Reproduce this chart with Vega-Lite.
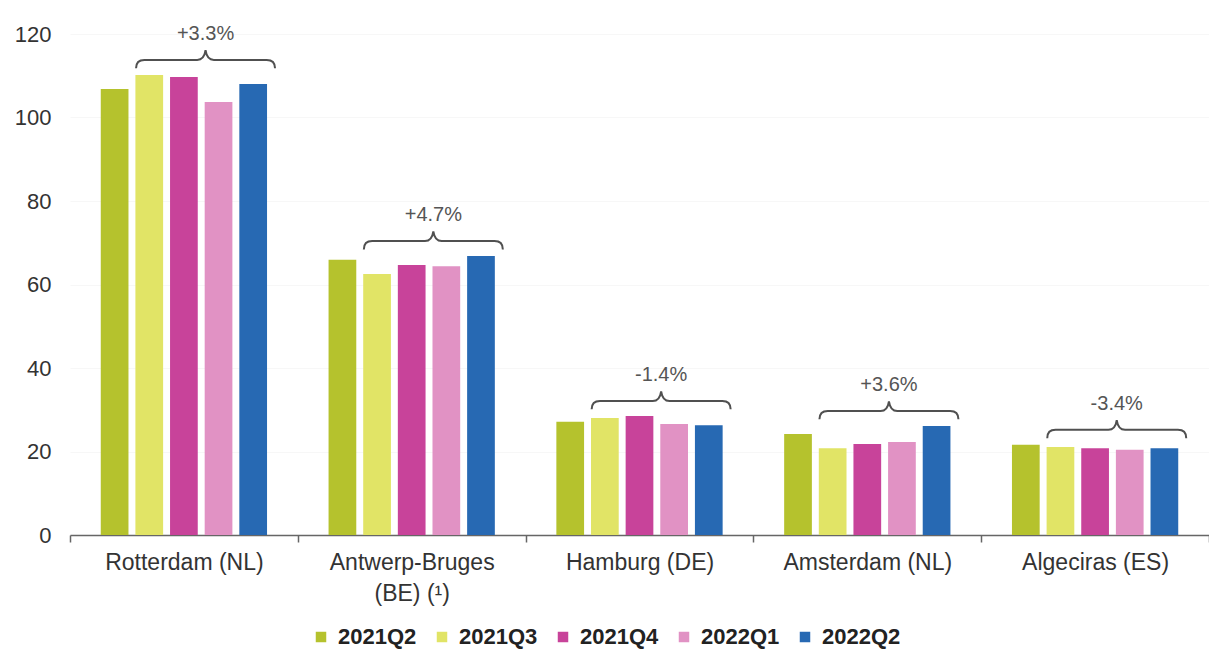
{
  "$schema": "https://vega.github.io/schema/vega-lite/v6.json",
  "width": 1139,
  "height": 501,
  "autosize": "none",
  "padding": {"left": 70, "top": 34, "right": 0, "bottom": 119},
  "background": "white",
  "config": {"view": {"stroke": null}, "font": "Liberation Sans"},
  "datasets": {
    "ports": [
      {"port": "Rotterdam (NL)", "quarter": "2021Q2", "value": 106.8},
      {"port": "Rotterdam (NL)", "quarter": "2021Q3", "value": 110.2},
      {"port": "Rotterdam (NL)", "quarter": "2021Q4", "value": 109.7},
      {"port": "Rotterdam (NL)", "quarter": "2022Q1", "value": 103.7},
      {"port": "Rotterdam (NL)", "quarter": "2022Q2", "value": 108.0},
      {"port": "Antwerp-Bruges (BE) (¹)", "quarter": "2021Q2", "value": 65.9},
      {"port": "Antwerp-Bruges (BE) (¹)", "quarter": "2021Q3", "value": 62.5},
      {"port": "Antwerp-Bruges (BE) (¹)", "quarter": "2021Q4", "value": 64.7},
      {"port": "Antwerp-Bruges (BE) (¹)", "quarter": "2022Q1", "value": 64.4},
      {"port": "Antwerp-Bruges (BE) (¹)", "quarter": "2022Q2", "value": 66.8},
      {"port": "Hamburg (DE)", "quarter": "2021Q2", "value": 27.1},
      {"port": "Hamburg (DE)", "quarter": "2021Q3", "value": 28.0},
      {"port": "Hamburg (DE)", "quarter": "2021Q4", "value": 28.5},
      {"port": "Hamburg (DE)", "quarter": "2022Q1", "value": 26.6},
      {"port": "Hamburg (DE)", "quarter": "2022Q2", "value": 26.3},
      {"port": "Amsterdam (NL)", "quarter": "2021Q2", "value": 24.2},
      {"port": "Amsterdam (NL)", "quarter": "2021Q3", "value": 20.8},
      {"port": "Amsterdam (NL)", "quarter": "2021Q4", "value": 21.8},
      {"port": "Amsterdam (NL)", "quarter": "2022Q1", "value": 22.3},
      {"port": "Amsterdam (NL)", "quarter": "2022Q2", "value": 26.1},
      {"port": "Algeciras (ES)", "quarter": "2021Q2", "value": 21.6},
      {"port": "Algeciras (ES)", "quarter": "2021Q3", "value": 21.1},
      {"port": "Algeciras (ES)", "quarter": "2021Q4", "value": 20.8},
      {"port": "Algeciras (ES)", "quarter": "2022Q1", "value": 20.4},
      {"port": "Algeciras (ES)", "quarter": "2022Q2", "value": 20.8}
    ],
    "changes": [
      {"port": "Rotterdam (NL)", "change": "+3.3%"},
      {"port": "Antwerp-Bruges (BE) (¹)", "change": "+4.7%"},
      {"port": "Hamburg (DE)", "change": "-1.4%"},
      {"port": "Amsterdam (NL)", "change": "+3.6%"},
      {"port": "Algeciras (ES)", "change": "-3.4%"}
    ]
  },
  "layer": [
    {
      "data": {"name": "ports"},
      "mark": {"type": "bar"},
      "encoding": {
        "x": {
          "field": "port",
          "type": "nominal",
          "sort": ["Rotterdam (NL)", "Antwerp-Bruges (BE) (¹)", "Hamburg (DE)", "Amsterdam (NL)", "Algeciras (ES)"],
          "scale": {"paddingInner": 0, "paddingOuter": 0},
          "axis": {
            "title": null,
            "labelAngle": 0,
            "domainColor": "#666",
            "domainWidth": 1.5,
            "tickColor": "#666",
            "tickWidth": 1.5,
            "tickSize": 7,
            "tickBand": "extent",
            "labelFontSize": 23,
            "labelColor": "#333",
            "labelPadding": 9,
            "labelBaseline": "top",
            "labelLineHeight": 31,
            "labelExpr": "datum.value == 'Antwerp-Bruges (BE) (¹)' ? ['Antwerp-Bruges', '(BE) (¹)'] : datum.label"
          }
        },
        "xOffset": {
          "field": "quarter",
          "type": "nominal",
          "sort": ["2021Q2", "2021Q3", "2021Q4", "2022Q1", "2022Q2"],
          "scale": {"paddingInner": 0.2, "paddingOuter": 0.888}
        },
        "y": {
          "field": "value",
          "type": "quantitative",
          "scale": {"domain": [0, 120]},
          "axis": {
            "title": null,
            "domain": false,
            "ticks": false,
            "values": [0, 20, 40, 60, 80, 100, 120],
            "labelFontSize": 22,
            "labelColor": "#333",
            "labelPadding": 19,
            "grid": true,
            "gridColor": "#f7f7f7"
          }
        },
        "color": {
          "field": "quarter",
          "type": "nominal",
          "scale": {
            "domain": ["2021Q2", "2021Q3", "2021Q4", "2022Q1", "2022Q2"],
            "range": ["#b5c22d", "#e1e466", "#c8439a", "#e192c4", "#2769b3"]
          },
          "legend": {
            "title": null,
            "orient": "none",
            "legendX": 240,
            "legendY": 592,
            "direction": "horizontal",
            "padding": 0,
            "symbolType": "square",
            "symbolSize": 110,
            "symbolStrokeWidth": 0,
            "labelFontSize": 22,
            "labelFontWeight": "bold",
            "labelColor": "#222",
            "labelOffset": 6,
            "columnPadding": 14
          }
        }
      }
    },
    {
      "data": {"name": "ports"},
      "transform": [
        {"aggregate": [{"op": "max", "field": "value", "as": "top"}], "groupby": ["port"]}
      ],
      "mark": {
        "type": "point",
        "shape": "M -1 0.12 Q -1 0 -0.88 0 L -0.12 0 Q -0.02 0 0 -0.14 Q 0.02 0 0.12 0 L 0.88 0 Q 1 0 1 0.12",
        "size": 19321,
        "filled": false,
        "stroke": "#505050",
        "strokeWidth": 2,
        "opacity": 1,
        "yOffset": -15
      },
      "encoding": {
        "x": {"field": "port", "type": "nominal", "bandPosition": 0.595, "sort": ["Rotterdam (NL)", "Antwerp-Bruges (BE) (¹)", "Hamburg (DE)", "Amsterdam (NL)", "Algeciras (ES)"]},
        "y": {"field": "top", "type": "quantitative"}
      }
    },
    {
      "data": {"name": "ports"},
      "transform": [
        {"aggregate": [{"op": "max", "field": "value", "as": "top"}], "groupby": ["port"]},
        {"lookup": "port", "from": {"data": {"name": "changes"}, "key": "port", "fields": ["change"]}}
      ],
      "mark": {"type": "text", "yOffset": -41, "fontSize": 20, "color": "#555", "baseline": "middle", "align": "center"},
      "encoding": {
        "x": {"field": "port", "type": "nominal", "bandPosition": 0.595, "sort": ["Rotterdam (NL)", "Antwerp-Bruges (BE) (¹)", "Hamburg (DE)", "Amsterdam (NL)", "Algeciras (ES)"]},
        "y": {"field": "top", "type": "quantitative"},
        "text": {"field": "change"}
      }
    }
  ]
}
